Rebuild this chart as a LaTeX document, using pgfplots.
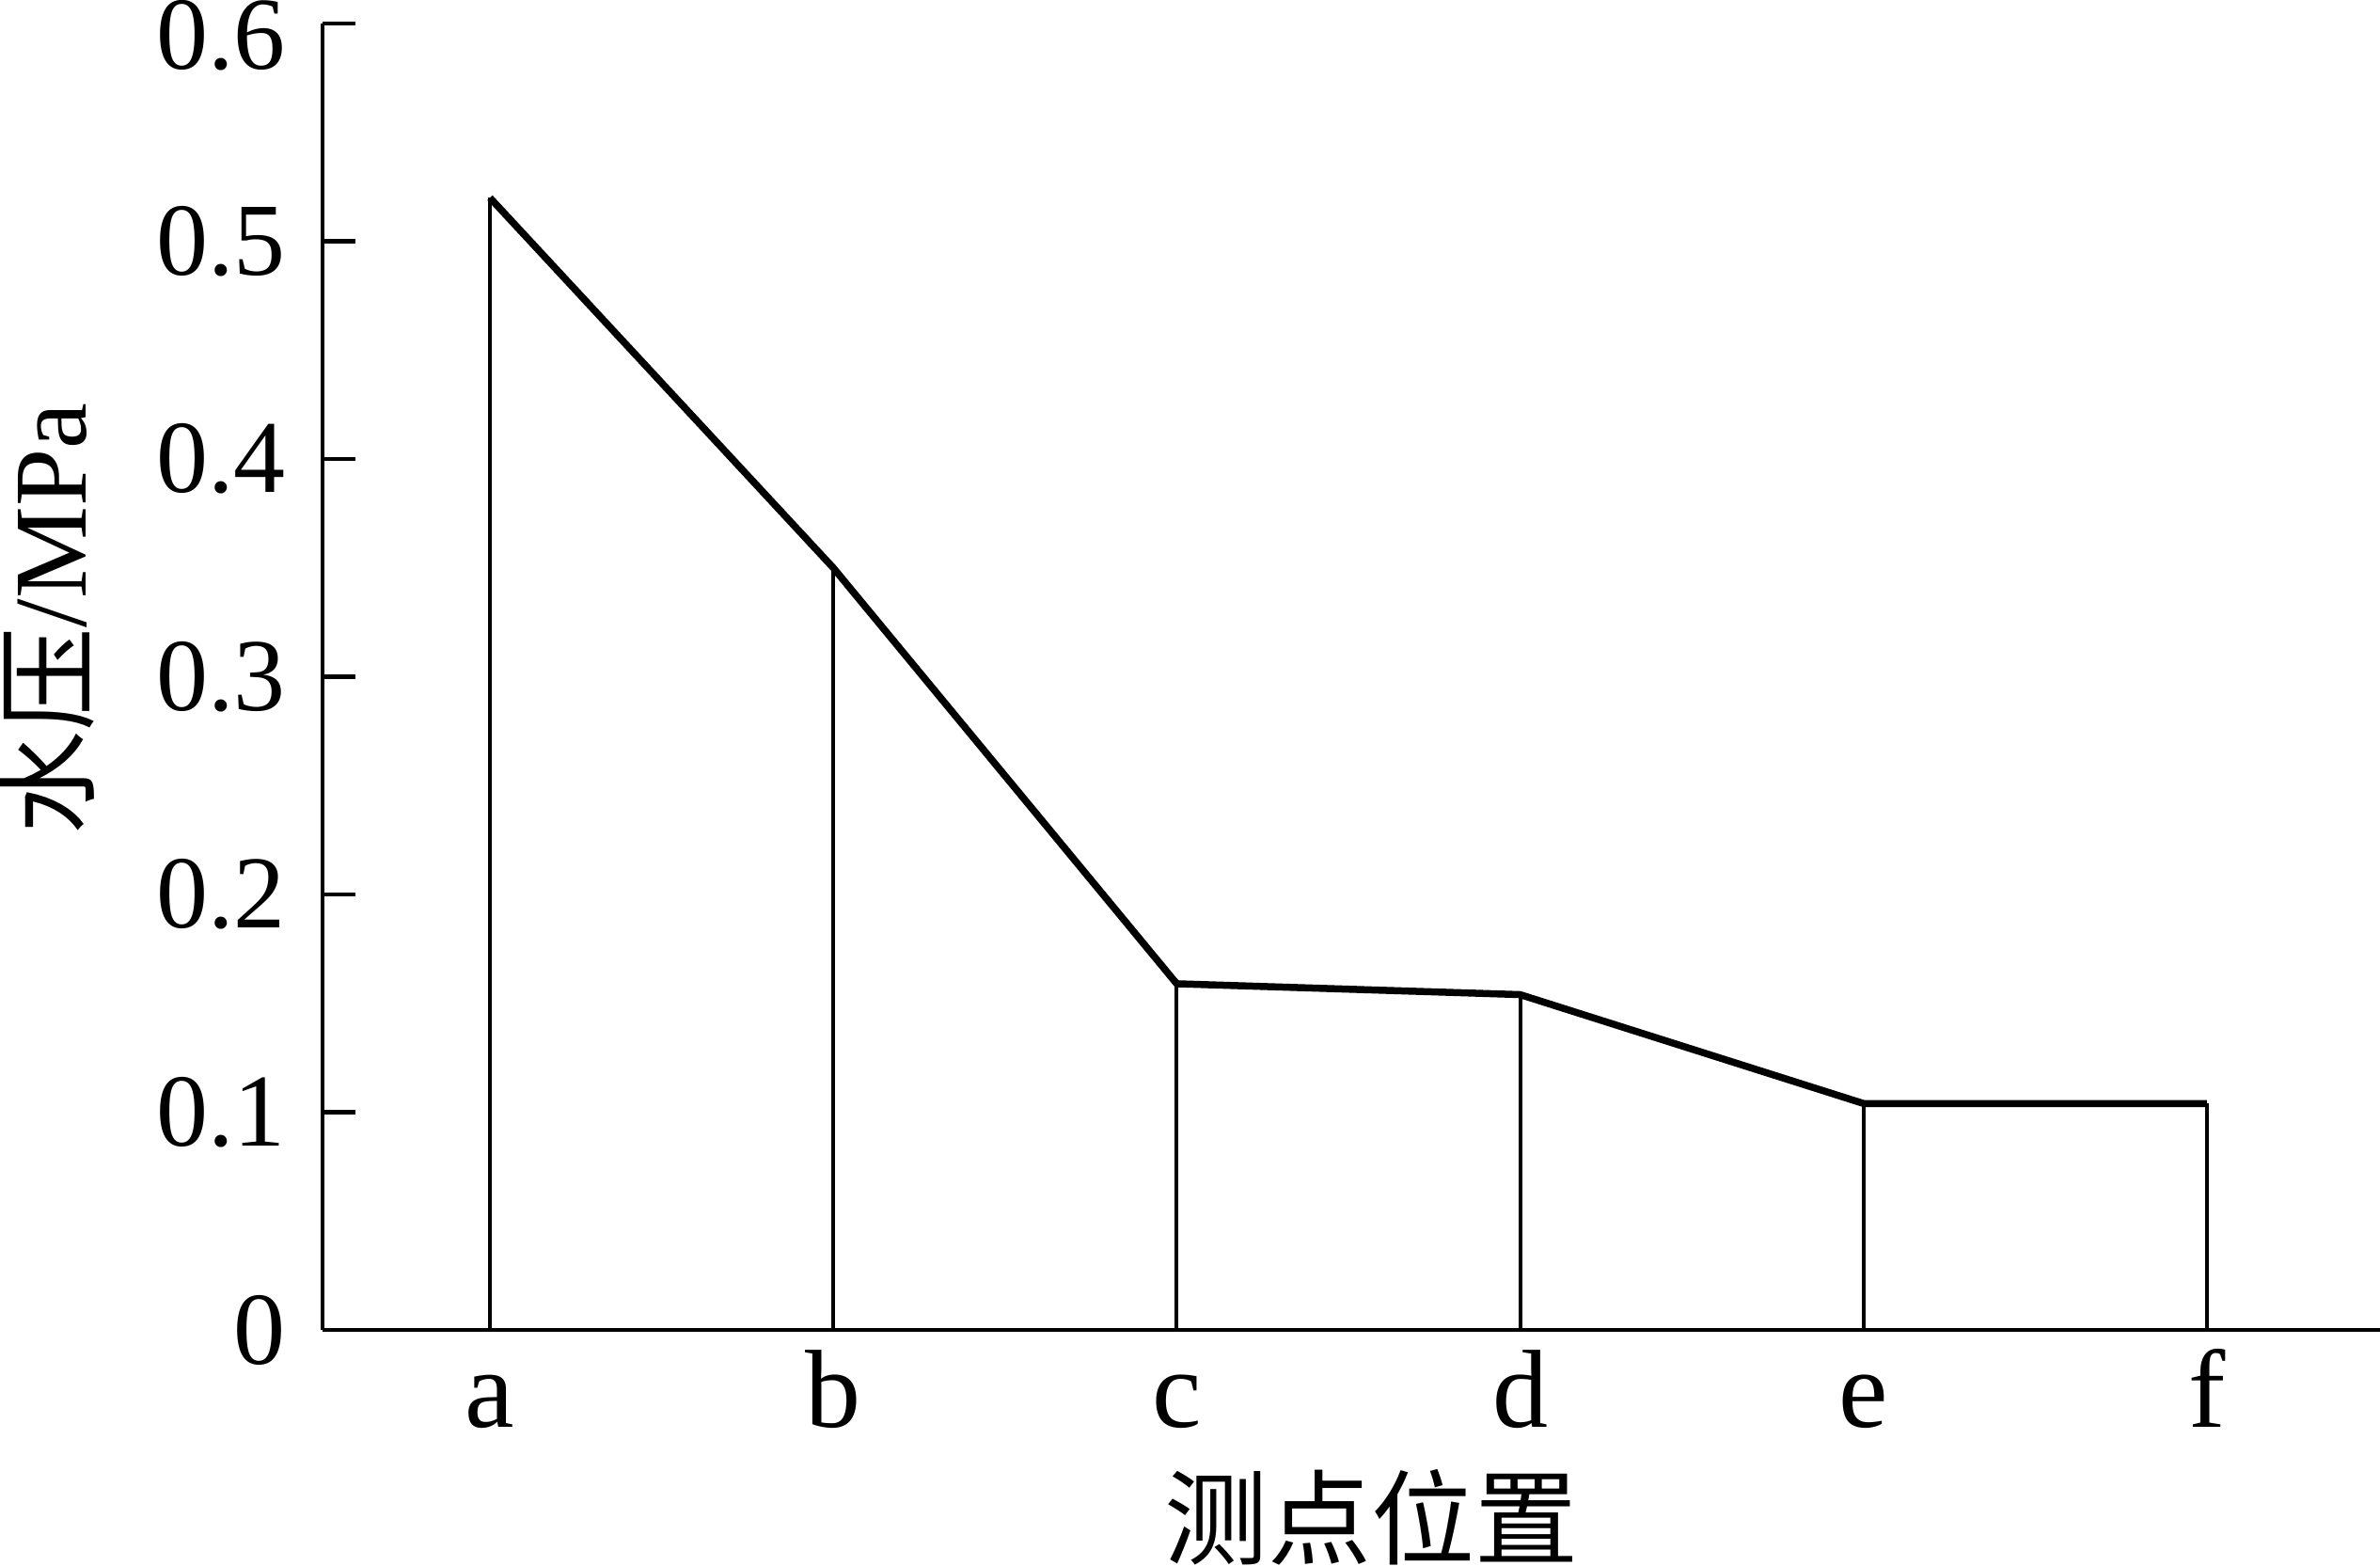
\documentclass[border=0pt]{standalone}
\usepackage{fontspec}
\setmainfont{Liberation Serif}
\newfontfamily\cjk{Noto Sans CJK SC}
\usepackage{pgfplots}
\pgfplotsset{compat=1.18}
\usepackage{pgfplotstable}
\pgfplotstableread{
x y
0 0.520
1 0.350
2 0.159
3 0.154
4 0.104
5 0.104
}\pressure
\begin{document}
\begin{tikzpicture}
\begin{axis}[
  scale only axis,
  width=437.6pt, height=277.8pt,
  xmin=-0.4874, xmax=5.504,
  ymin=0, ymax=0.6,
  axis x line*=bottom, axis y line*=left,
  axis line style={line width=0.95pt, black},
  tick align=inside,
  major tick length=7pt,
  ytick={0,0.1,0.2,0.3,0.4,0.5,0.6},
  yticklabels={0,0.1,0.2,0.3,0.4,0.5,\raisebox{-2.4pt}[\height][0pt]{0.6}},
  ytick style={line width=0.95pt, black},
  xtick={0,1,2,3,4,5},
  xticklabels={a,b,c,d,e,f},
  xtick style={draw=none},
  /pgf/number format/assume math mode=true,
  yticklabel style={font=\fontsize{22}{26}\selectfont, inner sep=0pt, anchor=east, xshift=-7.6pt},
  xticklabel style={font=\fontsize{23.6}{28}\selectfont, inner sep=0pt, anchor=base, yshift=-20.6pt},
  xlabel={\cjk 测点位置},
  xlabel style={font=\fontsize{22}{26}\selectfont, at={(axis description cs:0.5096,-0.1433)}, anchor=center},
  ylabel={{\cjk 水压}/MPa},
  ylabel style={font=\fontsize{22}{26}\selectfont, at={(axis description cs:-0.1340,0.5443)}, anchor=center},
  clip=false,
]
\addplot[ycomb, line width=0.8pt, black, no marks] table[x=x,y=y] {\pressure};
\addplot[line width=1.5pt, black, no marks, line join=round] table[x=x,y=y] {\pressure};
\end{axis}
\pgfresetboundingbox
\useasboundingbox (-68.6pt,-50pt) rectangle (437.6pt,282.8pt);
\end{tikzpicture}
\end{document}
